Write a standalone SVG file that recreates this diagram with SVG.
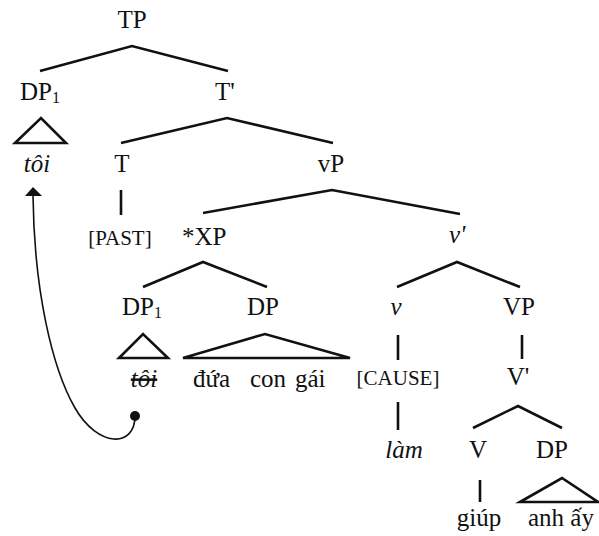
<svg xmlns="http://www.w3.org/2000/svg" width="599" height="536" viewBox="0 0 599 536">
<rect width="599" height="536" fill="#fff"/>
<g id="connectors" stroke="#111" stroke-width="2.6" fill="none">
<polyline points="40,71 132,46 228,71"/>
<polyline points="121,143 227,118 333,143"/>
<polyline points="203,213 332,190 460,214"/>
<polyline points="143,287 203,262 267,287"/>
<polyline points="397,287 457,262 520,287"/>
<line x1="121" y1="190" x2="121" y2="215"/>
<line x1="398" y1="335" x2="398" y2="360"/>
<line x1="398" y1="402" x2="398" y2="430"/>
<line x1="522" y1="335" x2="522" y2="359"/>
<polyline points="473,428 518,406 562,428"/>
<line x1="480" y1="480" x2="480" y2="502"/>
<polygon points="15,143 41,118 66,143"/>
<polygon points="119,358 143,334 168,358"/>
<polygon points="183,358 265,334 350,358"/>
<polygon points="520,502 562,478 598,502"/>
<path stroke-width="1.6" d="M135,416 C135,448 98,448 75,408 C52,368 34,290 33,195"/>
<circle cx="135" cy="416" r="5" fill="#111" stroke="none"/>
<polygon points="33,187 25,196 42,196" fill="#111" stroke="none"/>
</g>
<g id="TP"><text font-family="Liberation Serif" font-size="25" fill="#111" text-anchor="middle" x="132" y="28">TP</text></g>
<g id="DP1-top"><text font-family="Liberation Serif" font-size="25" fill="#111" x="20" y="100">DP<tspan font-size="16" dy="3">1</tspan></text></g>
<g id="Tbar"><text font-family="Liberation Serif" font-size="25" fill="#111" x="215" y="100">T'</text></g>
<g id="toi-top"><text font-family="Liberation Serif" font-size="25" fill="#111" text-anchor="middle" font-style="italic" x="37" y="172">tôi</text></g>
<g id="T"><text font-family="Liberation Serif" font-size="25" fill="#111" text-anchor="middle" x="122" y="172">T</text></g>
<g id="vP"><text font-family="Liberation Serif" font-size="25" fill="#111" text-anchor="middle" x="331" y="172">vP</text></g>
<g id="PAST"><text font-family="Liberation Serif" font-size="21" fill="#111" text-anchor="middle" x="120" y="245">[PAST]</text></g>
<g id="XP"><text font-family="Liberation Serif" font-size="25" fill="#111" x="182" y="245">*XP</text></g>
<g id="vbar"><text font-family="Liberation Serif" font-size="25" fill="#111" font-style="italic" x="449" y="243">v'</text></g>
<g id="DP1-low"><text font-family="Liberation Serif" font-size="25" fill="#111" x="122" y="315">DP<tspan font-size="16" dy="3">1</tspan></text></g>
<g id="DP-mid"><text font-family="Liberation Serif" font-size="25" fill="#111" text-anchor="middle" x="263" y="315">DP</text></g>
<g id="v"><text font-family="Liberation Serif" font-size="25" fill="#111" text-anchor="middle" font-style="italic" x="396" y="315">v</text></g>
<g id="VP"><text font-family="Liberation Serif" font-size="25" fill="#111" text-anchor="middle" x="519" y="315">VP</text></g>
<g id="toi-low"><text font-family="Liberation Serif" font-size="25" fill="#111" text-anchor="middle" font-style="italic" text-decoration="line-through" x="144" y="387">tôi</text></g>
<g id="dua-con-gai"><text font-family="Liberation Serif" font-size="25" fill="#111" y="387"><tspan x="193">đứa</tspan><tspan x="250">con</tspan><tspan x="295">gái</tspan></text></g>
<g id="CAUSE"><text font-family="Liberation Serif" font-size="21" fill="#111" text-anchor="middle" x="398" y="385">[CAUSE]</text></g>
<g id="Vbar"><text font-family="Liberation Serif" font-size="25" fill="#111" text-anchor="middle" x="518" y="385">V'</text></g>
<g id="lam"><text font-family="Liberation Serif" font-size="25" fill="#111" text-anchor="middle" font-style="italic" x="404" y="458">làm</text></g>
<g id="V"><text font-family="Liberation Serif" font-size="25" fill="#111" text-anchor="middle" x="478" y="458">V</text></g>
<g id="DP-low"><text font-family="Liberation Serif" font-size="25" fill="#111" text-anchor="middle" x="552" y="458">DP</text></g>
<g id="giup"><text font-family="Liberation Serif" font-size="25" fill="#111" text-anchor="middle" x="479" y="526">giúp</text></g>
<g id="anh-ay"><text font-family="Liberation Serif" font-size="25" fill="#111" x="528" y="526">anh ấy</text></g>
</svg>
